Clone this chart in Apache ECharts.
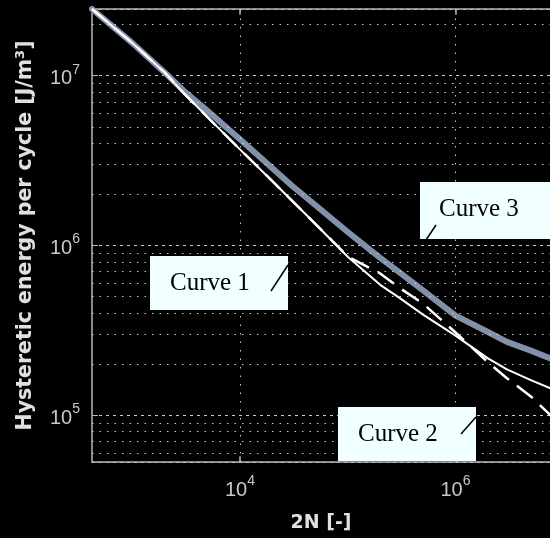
<!DOCTYPE html>
<html><head><meta charset="utf-8">
<script src="https://cdn.jsdelivr.net/npm/echarts@6/dist/echarts.min.js"></script>
<style>html,body{margin:0;padding:0;background:#000}#c{width:550px;height:538px}</style>
</head><body><div id="c"></div>
<script>
// 2N [-] sample points
const cycles = [424, 1000, 2000, 3000, 5000, 1e4, 2e4, 3e4, 5e4, 1e5, 2e5, 3e5, 5e5, 1e6, 2e6, 3e6, 5e6, 8e6];
// Hysteretic energy per cycle [J/m3]
const curve1 = [2.47e7, 1.56e7, 1.045e7, 7.9e6, 5.7e6, 3.68e6, 2.39e6, 1.85e6, 1.34e6, 8.57e5, 5.86e5, 4.92e5, 3.91e5, 2.94e5, 2.16e5, 1.86e5, 1.61e5, 1.42e5];
const curve2 = [2.47e7, 1.56e7, 1.045e7, 7.9e6, 5.7e6, 3.68e6, 2.39e6, 1.85e6, 1.34e6, 8.6e5, 6.84e5, 5.64e5, 4.54e5, 3.07e5, 2.05e5, 1.65e5, 1.29e5, 9.7e4];
const curve3 = [2.47e7, 1.56e7, 1.045e7, 8.15e6, 6.2e6, 4.22e6, 2.85e6, 2.26e6, 1.73e6, 1.2e6, 8.45e5, 6.95e5, 5.43e5, 3.86e5, 3.09e5, 2.7e5, 2.4e5, 2.13e5];
const seriesNames = ['Curve 1', 'Curve 2', 'Curve 3'];
const xTickExponents = [4, 6];
const yTickExponents = [5, 6, 7];
const yMinorGrid = [6e4, 7e4, 8e4, 9e4, 2e5, 3e5, 4e5, 5e5, 6e5, 7e5, 8e5, 9e5, 2e6, 3e6, 4e6, 5e6, 6e6, 7e6, 8e6, 9e6, 2e7];
const xRange = [424, 7.53e6];
const yRange = [52970, 2.47e7];

const pairs = ys => cycles.map((x, i) => [x, ys[i]]);
const powLabel = exps => v => {
  const e = Math.log10(v), r = Math.round(e);
  return (Math.abs(e - r) < 1e-6 && exps.includes(r)) ? '{b|10}{s|' + r + '}' : '';
};
const labelRich = {
  b: { fontFamily: 'Liberation Sans', fontSize: 20, color: '#c8c8c8', lineHeight: 26, verticalAlign: 'bottom' },
  s: { fontFamily: 'Liberation Sans', fontSize: 14, color: '#c8c8c8', lineHeight: 26, verticalAlign: 'top' }
};
const gridCol = 'rgba(215,215,215,0.95)';
const frameCol = '#b8b8b8';

const chart = echarts.init(document.getElementById('c'), null, { renderer: 'canvas' });
chart.setOption({
  backgroundColor: '#000',
  animation: false,
  grid: { left: 92, top: 9, right: 0, bottom: 74, containLabel: false },
  xAxis: [{
    type: 'log', logBase: 10, min: xRange[0], max: xRange[1],
    name: '2N [-]', nameLocation: 'middle', nameGap: 52,
    nameTextStyle: { fontFamily: 'DejaVu Sans', fontWeight: 'bold', fontSize: 19, color: '#e0e0e0' },
    axisLine: { show: true, lineStyle: { color: frameCol, width: 1.5 } },
    axisTick: { show: false },
    axisLabel: { formatter: powLabel(xTickExponents), rich: labelRich, margin: 12, showMinLabel: false, showMaxLabel: false },
    splitLine: { show: false }
  }, {
    type: 'log', logBase: 10, min: xRange[0], max: xRange[1], position: 'top',
    axisLine: { show: true, lineStyle: { color: frameCol, width: 1.5 } },
    axisTick: { show: false }, axisLabel: { show: false }, splitLine: { show: false }
  }],
  yAxis: {
    type: 'log', logBase: 10, min: yRange[0], max: yRange[1],
    name: 'Hysteretic energy per cycle [J/m{s|3}]', nameLocation: 'middle', nameGap: 54, nameRotate: 90,
    nameTextStyle: { fontFamily: 'DejaVu Sans', fontWeight: 'bold', fontSize: 20.5, color: '#e0e0e0',
      rich: { s: { fontFamily: 'DejaVu Sans', fontWeight: 'bold', fontSize: 13, color: '#e0e0e0', verticalAlign: 'top', lineHeight: 24 } } },
    axisLine: { show: true, lineStyle: { color: frameCol, width: 1.5 } },
    axisTick: { show: true, inside: true, length: 6, lineStyle: { color: frameCol } },
    axisLabel: { formatter: powLabel(yTickExponents), rich: labelRich, margin: 12, showMinLabel: false, showMaxLabel: false },
    splitLine: { show: true, lineStyle: { color: gridCol, width: 1, type: [3, 4] } }
  },
  graphic: [
    { type: 'rect', z: 100, shape: { x: 420, y: 182, width: 140, height: 57 }, style: { fill: '#f0ffff' } },
    { type: 'text', z: 101, x: 439, y: 209, style: { text: seriesNames[2], font: '25px "Liberation Serif"', fill: '#000', verticalAlign: 'middle' } },
    { type: 'line', z: 101, shape: { x1: 436, y1: 225, x2: 426, y2: 240 }, style: { stroke: '#000', lineWidth: 1.5 } },
    { type: 'rect', z: 100, shape: { x: 150, y: 256, width: 138, height: 54 }, style: { fill: '#f0ffff' } },
    { type: 'text', z: 101, x: 170, y: 283, style: { text: seriesNames[0], font: '25px "Liberation Serif"', fill: '#000', verticalAlign: 'middle' } },
    { type: 'line', z: 101, shape: { x1: 271, y1: 291, x2: 288, y2: 265 }, style: { stroke: '#000', lineWidth: 1.5 } },
    { type: 'rect', z: 100, shape: { x: 338, y: 407, width: 138, height: 54 }, style: { fill: '#f0ffff' } },
    { type: 'text', z: 101, x: 358, y: 434, style: { text: seriesNames[1], font: '25px "Liberation Serif"', fill: '#000', verticalAlign: 'middle' } },
    { type: 'line', z: 101, shape: { x1: 461, y1: 434, x2: 476, y2: 417 }, style: { stroke: '#000', lineWidth: 1.5 } }
  ],
  series: [
    {
      type: 'line', data: [], z: 1, silent: true,
      markLine: {
        silent: true, symbol: 'none', label: { show: false }, animation: false,
        data: [
          ...yMinorGrid.map(v => ({ yAxis: v, lineStyle: { color: gridCol, width: 1, type: [1.5, 6] } })),
          ...xTickExponents.map(e => ({ xAxis: Math.pow(10, e), lineStyle: { color: gridCol, width: 1, type: [1.5, 7] } })),
          ...xTickExponents.map(e => [{ coord: [Math.pow(10, e), yRange[0]], lineStyle: { color: frameCol, width: 1.5, type: 'solid' } }, { coord: [Math.pow(10, e), yRange[0] * 1.08] }]),
          ...xTickExponents.map(e => [{ coord: [Math.pow(10, e), yRange[1]], lineStyle: { color: frameCol, width: 1.5, type: 'solid' } }, { coord: [Math.pow(10, e), yRange[1] / 1.08] }])
        ]
      }
    },
    { name: seriesNames[2], type: 'line', z: 3, data: pairs(curve3), showSymbol: false, smooth: false,
      lineStyle: { color: '#8390aa', width: 6, join: 'round', cap: 'round' } },
    { name: seriesNames[0], type: 'line', z: 4, data: pairs(curve1), showSymbol: false, smooth: false,
      lineStyle: { color: '#ffffff', width: 2, join: 'round' } },
    { name: seriesNames[1], type: 'line', z: 4, data: pairs(curve2), showSymbol: false, smooth: false,
      lineStyle: { color: '#ffffff', width: 2.5, type: [20, 10] } }
  ]
});
</script></body></html>
